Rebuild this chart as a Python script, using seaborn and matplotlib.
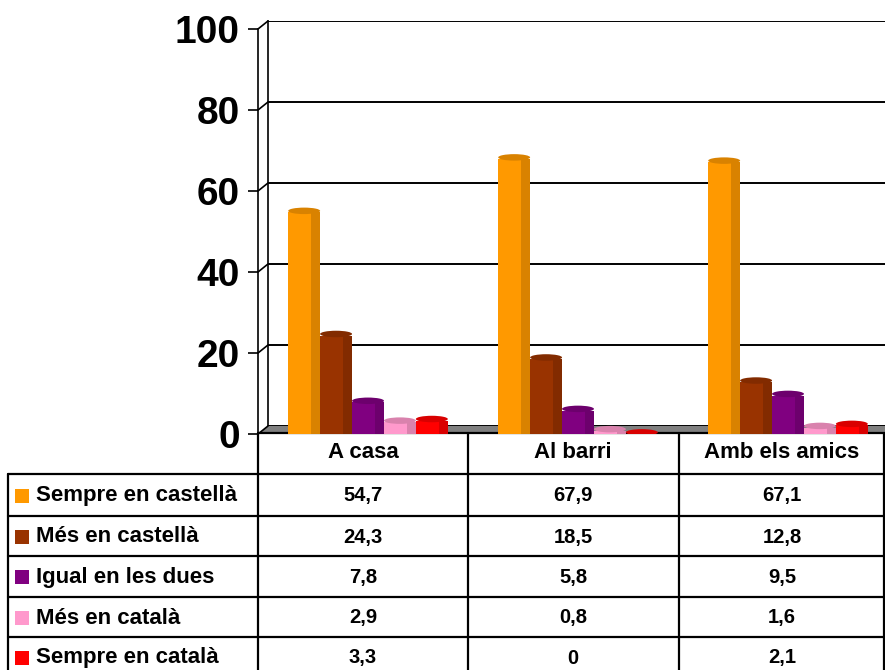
import numpy as np
import pandas as pd
import seaborn as sns
import matplotlib.pyplot as plt
import matplotlib.colors as mcolors
from matplotlib.patches import Ellipse, Rectangle, Polygon

# dades
categories = ["A casa", "Al barri", "Amb els amics"]
series = ["Sempre en castellà", "Més en castellà", "Igual en les dues",
          "Més en català", "Sempre en català"]
sempre_castella = [54.7, 67.9, 67.1]
mes_castella = [24.3, 18.5, 12.8]
igual_dues = [7.8, 5.8, 9.5]
mes_catala = [2.9, 0.8, 1.6]
sempre_catala = [3.3, 0, 2.1]
value_labels = [["54,7", "67,9", "67,1"],
                ["24,3", "18,5", "12,8"],
                ["7,8", "5,8", "9,5"],
                ["2,9", "0,8", "1,6"],
                ["3,3", "0", "2,1"]]
colors = ["#FF9900", "#993300", "#800080", "#FF99CC", "#FF0000"]
yticks = [0, 20, 40, 60, 80, 100]

values = [sempre_castella, mes_castella, igual_dues, mes_catala, sempre_catala]
df = pd.DataFrame([
    {"categoria": c, "serie": s, "valor": v[i]}
    for s, v in zip(series, values)
    for i, c in enumerate(categories)
])

sns.set_style("white")
plt.rcParams['font.family'] = ['Liberation Sans', 'DejaVu Sans']
plt.rcParams['font.weight'] = 'bold'
plt.rcParams['text.color'] = 'black'
plt.rcParams['ytick.color'] = 'black'
plt.rcParams['ytick.labelcolor'] = 'black'

W, H = 885, 670
fig = plt.figure(figsize=(W / 100, H / 100), dpi=100)

def fr(x0, y0, x1, y1):
    # pixels (origen a dalt) -> fraccions de figura
    return [x0 / W, (H - y1) / H, (x1 - x0) / W, (y1 - y0) / H]

# paret del fons
ax_wall = fig.add_axes(fr(268, 21, 900, 426), zorder=0)
ax_wall.set_ylim(0, 100)
ax_wall.set_xlim(0, 1)
ax_wall.set_yticks(yticks)
ax_wall.set_xticks([])
ax_wall.tick_params(left=False, labelleft=False)
ax_wall.grid(axis='y', color='black', lw=1.4)
for side in ['top', 'right', 'bottom']:
    ax_wall.spines[side].set_visible(False)
ax_wall.spines['left'].set_color('black')
ax_wall.spines['left'].set_linewidth(1.2)

# capa de fons: terra, connectors i taula
ax_bg = fig.add_axes([0, 0, 1, 1], zorder=0.5)
ax_bg.set_xlim(0, W)
ax_bg.set_ylim(H, 0)
ax_bg.axis('off')
ax_bg.patch.set_visible(False)

ax_bg.add_patch(Polygon([(258, 434), (268, 426), (W, 426), (W, 434)],
                        closed=True, facecolor='#808080', edgecolor='none'))
for v in yticks:
    yf = 434 - v * 4.05
    ax_bg.plot([258, 268], [yf, yf - 8], color='black', lw=1.2)

# taula
lw = 1.6
ax_bg.plot([258, W], [433, 433], color='black', lw=lw)
row_lines = [474, 516, 556, 597, 637]
for y in row_lines:
    ax_bg.plot([8, W], [y, y], color='black', lw=lw)
ax_bg.plot([8, 8], [474, H], color='black', lw=lw)
for x in [258, 468, 679, 884]:
    ax_bg.plot([x, x], [433, H], color='black', lw=lw)

col_centers = [363, 573, 782]
for c, xc in zip(categories, col_centers):
    ax_bg.text(xc, 453, c, ha='center', va='center', fontsize=16,
               fontweight='bold', color='black')

row_centers = [496, 537, 577, 618, 658]
for i, s in enumerate(series):
    yc = row_centers[i]
    ax_bg.add_patch(Rectangle((15, yc - 7), 14, 14, facecolor=colors[i], edgecolor='none'))
    ax_bg.text(36, yc, s, ha='left', va='center', fontsize=16,
               fontweight='bold', color='black')
    for j, xc in enumerate(col_centers):
        ax_bg.text(xc, yc, value_labels[i][j], ha='center', va='center',
                   fontsize=14.5, fontweight='bold', color='black')

# barres
ax = fig.add_axes(fr(258, 29, 888, 434), zorder=1)
ax.patch.set_visible(False)
sns.barplot(data=df, x='categoria', y='valor', hue='serie', hue_order=series,
            order=categories, palette=colors, width=0.76, saturation=1,
            edgecolor='none', legend=False, ax=ax)
shift = 5 / 210
ax.set_xlim(-0.5 - shift, 2.5 - shift)
ax.set_ylim(0, 100)
ax.set_yticks(yticks)
ax.set_yticklabels([str(v) for v in yticks], fontsize=28, fontweight='bold',
                   color='black')
ax.set_xticks([])
ax.set_xlabel('')
ax.set_ylabel('')
ax.tick_params(axis='y', left=True, length=7, width=1.2, pad=6, colors='black')
for side in ['top', 'right', 'bottom']:
    ax.spines[side].set_visible(False)
ax.spines['left'].set_color('black')
ax.spines['left'].set_linewidth(1.2)

# efecte de cilindre
for p in list(ax.patches):
    x, w, h = p.get_x(), p.get_width(), p.get_height()
    fc = np.array(mcolors.to_rgb(p.get_facecolor()))
    dark = tuple(fc * 0.85)
    ax.add_patch(Rectangle((x + 0.72 * w, 0), 0.28 * w, h, facecolor=dark,
                           edgecolor='none', zorder=p.get_zorder() + 0.1))
    ax.add_patch(Ellipse((x + w / 2, h + 0.4), w, 1.6, facecolor=dark,
                         edgecolor='none', zorder=p.get_zorder() + 0.2))

fig.savefig('out.png', dpi=100)
